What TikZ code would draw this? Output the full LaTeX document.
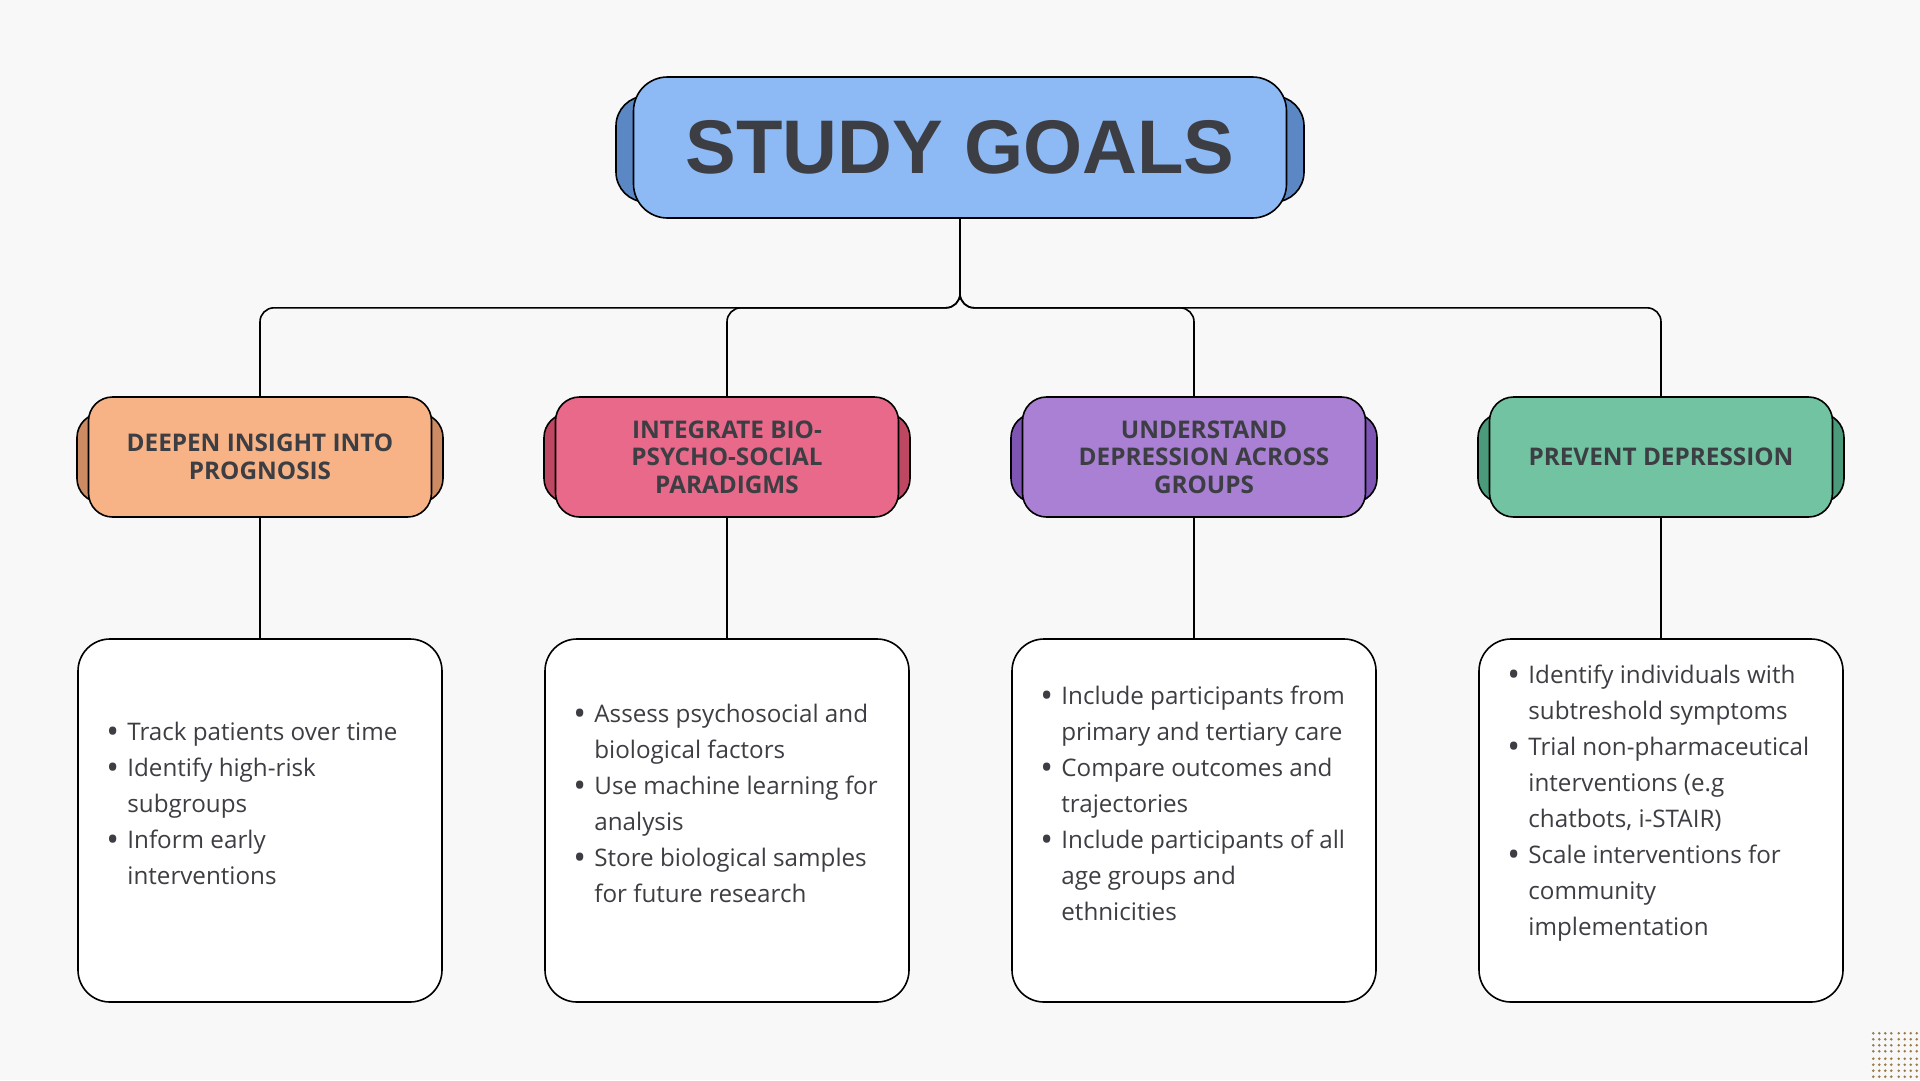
\documentclass[tikz,border=0pt]{standalone}
\usepackage{fontspec}
\setmainfont{Open Sans}
\newfontfamily\titlefont{Liberation Sans}
\usepackage{tikz}
\usetikzlibrary{positioning, calc, backgrounds}

\definecolor{paper}{HTML}{F8F8F8}
\definecolor{ink}{HTML}{3D3E43}
\definecolor{blueF}{HTML}{8DB9F5}  \definecolor{blueT}{HTML}{5B88C4}
\definecolor{orangeF}{HTML}{F7B386}\definecolor{orangeT}{HTML}{CC8B62}
\definecolor{pinkF}{HTML}{E8698A}  \definecolor{pinkT}{HTML}{BE4762}
\definecolor{purpF}{HTML}{A980D3}  \definecolor{purpT}{HTML}{7E55B3}
\definecolor{greenF}{HTML}{71C3A2} \definecolor{greenT}{HTML}{4A9A7B}
\definecolor{dotc}{HTML}{9A7A45}

\newcommand{\bu}{\makebox[21pt][l]{\raisebox{-2.6pt}{\scalebox{1.4}{\textbullet}}}}
\newcommand{\ind}{\hspace*{21pt}}

\begin{document}
\begin{tikzpicture}[
      x=1pt, y=-1pt,
      tab/.style={draw=black, line width=1.6pt, rounded corners=24pt,
                  minimum width=366pt, minimum height=89pt, inner sep=0pt},
      head/.style={draw=black, line width=1.6pt, rounded corners=24pt,
                   minimum width=343pt, minimum height=120pt, inner sep=0pt,
                   align=center, text=ink,
                   font=\bfseries\fontsize{24.3}{27.5}\selectfont},
      htext/.style={align=center, text=ink, inner sep=0pt,
                    font=\bfseries\fontsize{24.3}{27.5}\selectfont},
      body/.style={draw=black, line width=1.6pt, fill=white, rounded corners=32pt,
                   minimum width=364pt, minimum height=363pt},
      items/.style={anchor=west, align=left, inner sep=0pt, text=ink,
                    font=\fontsize{24.2}{36}\selectfont},
      conn/.style={line width=1.6pt, rounded corners=14pt},
    ]
    \fill[paper] (0,0) rectangle (1920,1080);
    \useasboundingbox (0,0) rectangle (1920,1080);

    % ---- title ----
    \node[tab, fill=blueT, minimum width=688pt, minimum height=106pt,
          rounded corners=30pt] (ttab) at (960,149) {};
    \node[head, fill=blueF, minimum width=653pt, minimum height=141pt,
          rounded corners=34pt, font=\titlefont\bfseries\fontsize{76}{80}\selectfont]
          (title) at (960,147.5) {STUDY GOALS};

    % ---- goal headers (y = 457) ----
    \node[tab, fill=orangeT] (tab1) at (260,458) {};
    \node[head, fill=orangeF] (h1) at (260,457) {DEEPEN INSIGHT INTO\\PROGNOSIS};
    \node[tab, fill=pinkT] (tab2) at (727,458) {};
    \node[head, fill=pinkF] (h2) at (727,457) {INTEGRATE BIO-\\PSYCHO-SOCIAL\\PARADIGMS};
    \node[tab, fill=purpT] (tab3) at (1194,458) {};
    \node[head, fill=purpF] (h3) at (1194,457) {};
    \node[htext] (h3txt) at ([xshift=10pt]h3.center) {UNDERSTAND\\DEPRESSION ACROSS\\GROUPS};
    \node[tab, fill=greenT] (tab4) at (1661,458) {};
    \node[head, fill=greenF] (h4) at (1661,457) {PREVENT DEPRESSION};

    % ---- detail boxes (y = 820) ----
    \node[body] (b1) at (260,820.5) {};
    \node[body] (b2) at (727,820.5) {};
    \node[body] (b3) at (1194,820.5) {};
    \node[body] (b4) at (1661,820.5) {};

    \node[items] (t1) at ($(b1.west)+(29,-17)$)
      {\bu Track patients over time\\
       \bu Identify high-risk\\\ind subgroups\\
       \bu Inform early\\\ind interventions};
    \node[items] (t2) at ($(b2.west)+(29,-17)$)
      {\bu Assess psychosocial and\\\ind biological factors\\
       \bu Use machine learning for\\\ind analysis\\
       \bu Store biological samples\\\ind for future research};
    \node[items] (t3) at ($(b3.west)+(29,-17)$)
      {\bu Include participants from\\\ind primary and tertiary care\\
       \bu Compare outcomes and\\\ind trajectories\\
       \bu Include participants of all\\\ind age groups and\\\ind ethnicities};
    \node[items] (t4) at ($(b4.west)+(29,-17)$)
      {\bu Identify individuals with\\\ind subtreshold symptoms\\
       \bu Trial non-pharmaceutical\\\ind interventions (e.g\\\ind chatbots, i-STAIR)\\
       \bu Scale interventions for\\\ind community\\\ind implementation};

    % ---- connectors ----
    \draw[conn] (title.south) -- ++(0,89) -| (h1.north);
    \draw[conn] (title.south) -- ++(0,89) -| (h2.north);
    \draw[conn] (title.south) -- ++(0,89) -| (h3.north);
    \draw[conn] (title.south) -- ++(0,89) -| (h4.north);
    \draw[conn] (h1.south) -- (b1.north);
    \draw[conn] (h2.south) -- (b2.north);
    \draw[conn] (h3.south) -- (b3.north);
    \draw[conn] (h4.south) -- (b4.north);

    % dotted corner pattern
    \foreach \i in {0,...,7}
      \foreach \j in {0,...,7}
        \fill[dotc] ({1873.3+6*\i+1.4*int(\i/4)},{1033.3+6*\j+1.4*int(\j/4)}) circle (1.4);
  \end{tikzpicture}
\end{document}
